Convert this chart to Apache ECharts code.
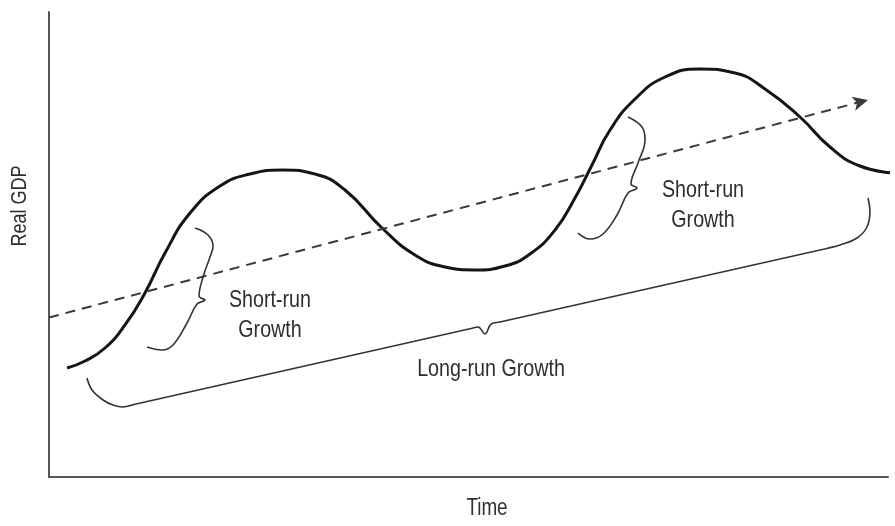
<!DOCTYPE html>
<html>
<head>
<meta charset="utf-8">
<script src="https://cdn.jsdelivr.net/npm/echarts@6/dist/echarts.min.js"></script>
<style>
html,body{margin:0;padding:0;background:#fff;}
#chart{width:895px;height:526px;}
</style>
</head>
<body>
<div id="chart"></div>
<script>
// Business-cycle curve (Real GDP over time), arbitrary units 0-100
var cycleTime = [2.15,4.29,6.67,9.06,11.44,13.83,16.81,20.38,23.96,27.89,31.70,35.28,39.69,43.62,47.20,50.77,54.35,57.33,60.31,62.69,64.72,66.87,69.85,73.42,77.59,81.76,85.34,89.51,93.09,96.66,100.83];
var cycleGDP  = [23.44,24.95,27.74,32.69,39.57,48.17,56.77,62.58,65.16,66.02,65.16,61.72,53.55,47.74,45.16,44.52,45.38,47.96,53.12,60.00,67.10,74.62,81.29,86.02,87.74,86.88,83.44,77.42,70.97,66.88,65.38];

// Long-run trend (dashed arrow)
var trendTime = [0, 97.6];
var trendGDP  = [34.3, 81.1];

// Braces
var brace1X = [11.68,13.47,14.78,16.45,17.64,18.59,17.88,18.36,19.19,19.55,18.95,17.40];
var brace1Y = [27.96,27.31,28.39,33.12,37.20,38.06,38.92,43.01,47.31,49.68,52.04,53.55];
var brace2X = [63.05,64.48,66.03,67.70,69.01,70.08,69.37,70.20,71.04,70.68,69.01];
var brace2Y = [52.47,51.18,52.26,56.34,61.08,62.15,63.01,67.53,72.47,75.27,77.42];
var braceLongX = [4.53,5.13,6.44,7.63,8.82,10.25,50.18,51.13,51.97,52.68,53.75,91.90,92.73,94.28,96.31,97.50,97.85,97.62];
var braceLongY = [21.29,18.71,16.56,15.48,15.05,15.63,31.87,32.26,30.75,32.90,33.33,48.82,49.16,49.89,51.40,53.76,57.20,60.00];

// Annotations
var noteText = ['Short-run\nGrowth', 'Short-run\nGrowth', 'Long-run Growth'];
var noteX = [26.34, 77.95, 52.68];
var noteY = [34.84, 58.49, 23.2];

var xTitle = 'Time';
var yTitle = 'Real GDP';

function zip(a, b){ return a.map(function(v,i){ return [v, b[i]]; }); }

var FONT = "'Liberation Sans',Arial,sans-serif";
var NARROW = 0.82;
var TEXT_COLOR = '#2f2f2f';
var chart = echarts.init(document.getElementById('chart'), null, {renderer:'canvas'});

function braceSeries(xs, ys){
  return {
    type:'line', data: zip(xs, ys), smooth: 0.4, symbol:'none', clip:false,
    lineStyle:{color:'#333', width:1.6}, silent:true, z:3
  };
}

chart.setOption({
  animation:false,
  backgroundColor:'#fff',
  grid:{left:49, right:7, top:12, bottom:49},
  xAxis:{type:'value', min:0, max:100,
    axisLine:{show:true, lineStyle:{color:'#555', width:2}},
    axisTick:{show:false}, axisLabel:{show:false}, splitLine:{show:false}},
  yAxis:{type:'value', min:0, max:100,
    axisLine:{show:true, onZero:false, lineStyle:{color:'#555', width:2}},
    axisTick:{show:false}, axisLabel:{show:false}, splitLine:{show:false}},
  series:[
    {
      type:'line', data: zip(cycleTime, cycleGDP), smooth:0.5, symbol:'none', clip:false,
      lineStyle:{color:'#151515', width:3}, z:4,
      markLine:{
        silent:true, symbol:['none','arrow'], symbolSize:[11,15],
        label:{show:false},
        lineStyle:{color:'#3a3a3a', width:2, type:[10,7]},
        data:[[{coord:[trendTime[0], trendGDP[0]]},{coord:[trendTime[1], trendGDP[1]]}]]
      }
    },
    braceSeries(brace1X, brace1Y),
    braceSeries(brace2X, brace2Y),
    braceSeries(braceLongX, braceLongY)
  ]
});

// Text elements (annotation positions through the chart's own scales)
var graphics = noteText.map(function(t, i){
  var p = chart.convertToPixel({gridIndex:0}, [noteX[i], noteY[i]]);
  return {type:'text', x:p[0], y:p[1], scaleX:NARROW, z:10,
    style:{text:t, fill:TEXT_COLOR, font:'24px '+FONT, lineHeight:30,
      textAlign:'center', textVerticalAlign:'middle', align:'center', verticalAlign:'middle'}};
});
graphics.push({type:'text', x:20, y:206, rotation:Math.PI/2, scaleX:NARROW, z:10,
  style:{text:yTitle, fill:TEXT_COLOR, font:'22px '+FONT, textAlign:'center', textVerticalAlign:'middle', align:'center', verticalAlign:'middle'}});
graphics.push({type:'text', x:487, y:509, scaleX:NARROW, z:10,
  style:{text:xTitle, fill:TEXT_COLOR, font:'23px '+FONT, textAlign:'center', textVerticalAlign:'middle', align:'center', verticalAlign:'middle'}});
chart.setOption({graphic:graphics});
</script>
</body>
</html>
